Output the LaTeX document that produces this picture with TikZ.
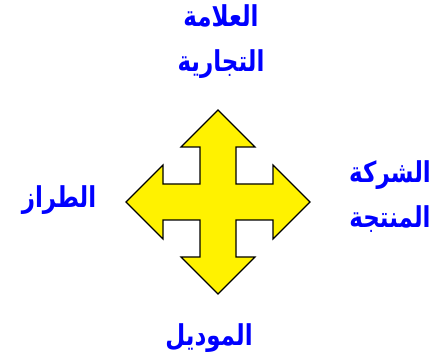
\documentclass[tikz,border=0pt]{standalone}
\usepackage{fontspec}
\newfontfamily\arabicfont[Script=Arabic]{DejaVu Sans}
\TeXXeTstate=1
\begin{document}
\begin{tikzpicture}[x=1pt, y=-1pt,
  lbl/.style={text=blue, font=\arabicfont\bfseries\fontsize{23}{36}\selectfont,
    align=center, yscale=1.25}]
  \useasboundingbox (0,0) rectangle (439,363);
  % four-way arrow
  \filldraw[fill=yellow, draw=black, line width=1.2pt, line join=miter]
    (218,110) -- (255,147) -- (236,147) -- (236,184)
    -- (273,184) -- (273,165) -- (310,202) -- (273,239) -- (273,220)
    -- (236,220) -- (236,257) -- (255,257) -- (218,294) -- (181,257)
    -- (200,257) -- (200,220) -- (163,220) -- (163,239) -- (126,202)
    -- (163,165) -- (163,184) -- (200,184) -- (200,147) -- (181,147) -- cycle;
  % labels
  \node[lbl] (brand) at (221,42) {\beginR العلامة\endR\\\beginR التجارية\endR};
  \node[lbl] (style) at (59,200) {\beginR الطراز\endR};
  \node[lbl] (maker) at (390,197) {\beginR الشركة\endR\\\beginR المنتجة\endR};
  \node[lbl] (model) at (209,338) {\beginR الموديل\endR};
\end{tikzpicture}
\end{document}
